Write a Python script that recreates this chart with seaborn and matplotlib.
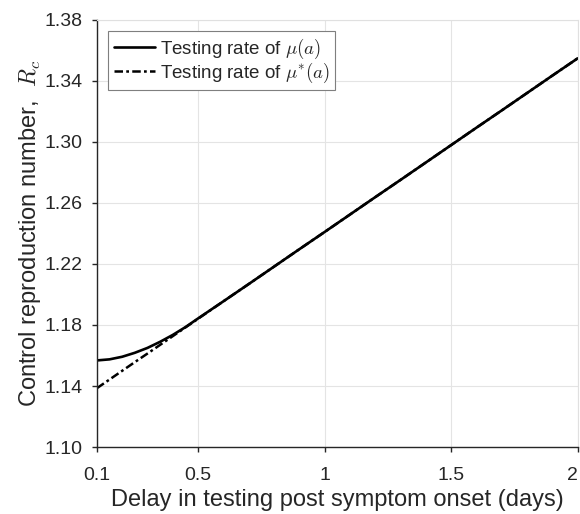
import numpy as np
import pandas as pd
import matplotlib
matplotlib.use("Agg")
import matplotlib.pyplot as plt
import seaborn as sns

# delay in testing post symptom onset (days)
delay = [0.1, 0.15, 0.2, 0.25, 0.3, 0.35, 0.4, 0.45, 0.5, 0.6, 0.7, 0.8, 0.9, 1.0,
         1.1, 1.2, 1.3, 1.4, 1.5, 1.6, 1.7, 1.8, 1.9, 2.0]
# R_c with testing rate mu(a)
rc_mu = [1.1568, 1.1575, 1.1592, 1.1618, 1.1650, 1.1690, 1.1735, 1.1786, 1.1843, 1.1955,
         1.2068, 1.2182, 1.2296, 1.2409, 1.2523, 1.2637, 1.2750, 1.2864, 1.2978, 1.3092,
         1.3205, 1.3319, 1.3433, 1.3546]
# R_c with testing rate mu*(a)
rc_mu_star = [1.1386, 1.1443, 1.1500, 1.1557, 1.1613, 1.1670, 1.1727, 1.1784, 1.1841, 1.1955,
              1.2068, 1.2182, 1.2296, 1.2409, 1.2523, 1.2637, 1.2750, 1.2864, 1.2978, 1.3092,
              1.3205, 1.3319, 1.3433, 1.3546]

xticks = [0.1, 0.5, 1, 1.5, 2]
xticklabels = ["0.1", "0.5", "1", "1.5", "2"]
yticks = [1.10, 1.14, 1.18, 1.22, 1.26, 1.30, 1.34, 1.38]

df = pd.DataFrame({"delay": delay, "mu": rc_mu, "mu_star": rc_mu_star})

sns.set_style("whitegrid")
plt.rcParams["font.family"] = ["Liberation Sans", "DejaVu Sans"]
plt.rcParams["mathtext.fontset"] = "cm"

fig = plt.figure(figsize=(5.8, 5.14), dpi=100)
ax = fig.add_axes([0.167, 0.130, 0.829, 0.832])

sns.lineplot(data=df, x="delay", y="mu", ax=ax, color="black", linewidth=1.9,
             label=r"Testing rate of $\mu(a)$")
sns.lineplot(data=df, x="delay", y="mu_star", ax=ax, color="black", linewidth=1.8,
             linestyle=(0, (3.4, 1.3, 1.1, 1.3)), label=r"Testing rate of $\mu^{*}(a)$")

ax.set_xlim(0.1, 2)
ax.set_ylim(1.10, 1.38)
ax.set_xticks(xticks)
ax.set_xticklabels(xticklabels)
ax.get_xticklabels()[-1].set_horizontalalignment("right")
ax.set_yticks(yticks)
ax.set_yticklabels([f"{v:.2f}" for v in yticks])

ax.grid(True, color="#e4e4e4", linewidth=0.8)
for side in ["top", "right"]:
    ax.spines[side].set_color("#e0e0e0")
    ax.spines[side].set_linewidth(0.8)
for side in ["left", "bottom"]:
    ax.spines[side].set_color("#262626")
    ax.spines[side].set_linewidth(1.0)

ax.tick_params(axis="both", direction="out", length=3.6, width=1, colors="#262626",
               labelsize=14, left=True, bottom=True)
ax.tick_params(axis="x", pad=11)
ax.tick_params(axis="y", pad=7)
ax.set_xlabel("Delay in testing post symptom onset (days)", fontsize=17, color="#262626", labelpad=3)
ax.set_ylabel(r"Control reproduction number,  $R_c$", fontsize=17, color="#262626", labelpad=1)

leg = ax.legend(loc="upper left", fontsize=13.5, frameon=True, fancybox=False,
                edgecolor="#7f7f7f", framealpha=1, handlelength=2.2, handletextpad=0.25,
                borderpad=0.3, labelspacing=0.0, borderaxespad=0.6)
leg.get_frame().set_linewidth(0.8)

fig.savefig("out.png", dpi=100)
